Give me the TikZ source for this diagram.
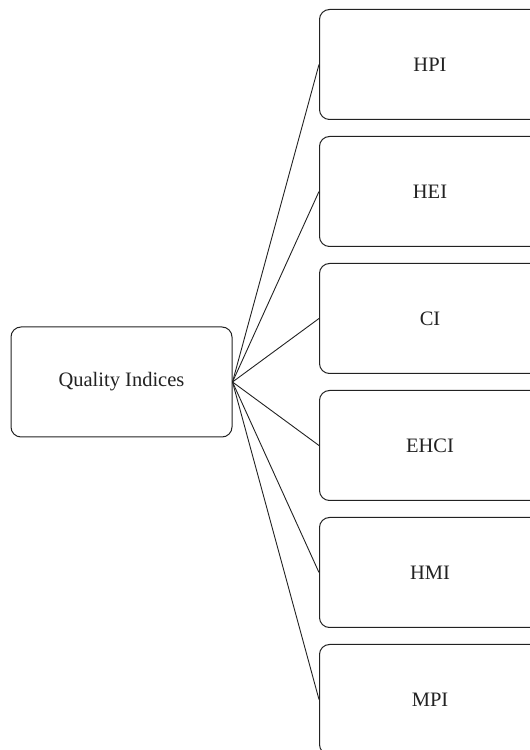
\documentclass[tikz,border=0pt]{standalone}
\usepackage{fontspec}
\setmainfont{Liberation Serif}
\usetikzlibrary{positioning}
\definecolor{Ink}{RGB}{34,34,34}
\tikzset{
  ibox/.style={rectangle,rounded corners=10pt,draw=Ink,fill=white,line width=1pt,
               font=\fontsize{20.5}{23}\selectfont,text=Ink,
               minimum width=221pt,minimum height=110pt,inner sep=2pt},
  ilink/.style={Ink,line width=0.9pt},
}

\begin{document}
\begin{tikzpicture}[x=1pt,y=1pt]
  \useasboundingbox (0,0) rectangle (530,750);
  \clip (0,0) rectangle (530,750);
  % hub
  \node[ibox] (qi) at (121.5,368) {Quality Indices};
  % indices
  \node[ibox] (hpi) at (430,685.5) {HPI};
  \node[ibox,below=16pt of hpi] (hei) {HEI};
  \node[ibox,below=16pt of hei] (ci) {CI};
  \node[ibox,below=16pt of ci] (ehci) {EHCI};
  \node[ibox,below=16pt of ehci] (hmi) {HMI};
  \node[ibox,below=16pt of hmi] (mpi) {MPI};
  % links
  \draw[ilink] (qi.east) -- (hpi.west);
  \draw[ilink] (qi.east) -- (hei.west);
  \draw[ilink] (qi.east) -- (ci.west);
  \draw[ilink] (qi.east) -- (ehci.west);
  \draw[ilink] (qi.east) -- (hmi.west);
  \draw[ilink] (qi.east) -- (mpi.west);
\end{tikzpicture}
\end{document}
